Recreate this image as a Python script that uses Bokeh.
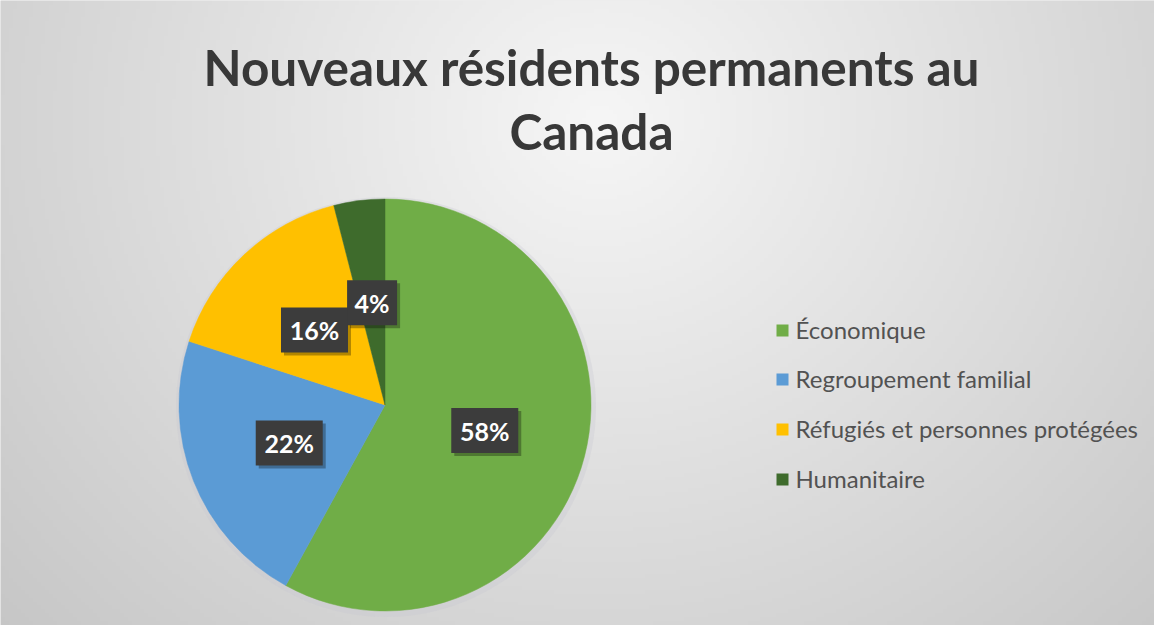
import numpy as np
from bokeh.plotting import figure
from bokeh.models import Range1d
from bokeh.core.properties import value
from bokeh.embed import file_html
from bokeh.resources import INLINE

# ---- data ----
categories = ["Économique", "Regroupement familial", "Réfugiés et personnes protégées", "Humanitaire"]
percentages = [58, 22, 16, 4]
colors = ["#70AD47", "#5B9BD5", "#FFC000", "#3E6B2C"]
title_lines = ["Nouveaux résidents permanents au", "Canada"]

# ---- layout helpers (pixel space) ----
W, H = 1154, 625
BASE_FIX = 0.36  # em correction for alphabetic baseline placement


def fx(sx):
    return sx


def fy(sy):
    return H - sy


p = figure(width=W, height=H, x_range=Range1d(0, W), y_range=Range1d(0, H),
           output_backend="svg", toolbar_location=None, min_border=0)
p.axis.visible = False
p.grid.visible = False
p.outline_line_color = None
p.background_fill_color = "#dcdcdc"
p.border_fill_color = "#dcdcdc"

# background radial gradient (style only)
gh, gw = 160, 290
gy, gx = np.mgrid[0:gh, 0:gw]
sx = (gx + 0.5) / gw * W
sy = H - (gy + 0.5) / gh * H
d = np.sqrt(((sx - 600) / 650) ** 2 + ((sy - 120) / 600) ** 2)
v = np.clip(246 - 38 * d, 0, 255).astype(np.uint8)
img = np.empty((gh, gw), dtype=np.uint32)
view = img.view(dtype=np.uint8).reshape((gh, gw, 4))
view[:, :, 0] = v
view[:, :, 1] = v
view[:, :, 2] = v
view[:, :, 3] = 255
p.image_rgba(image=[img], x=0, y=0, dw=W, dh=H)

# ---- title ----
tfs = 49.5
title_y = [84, 148]
for line, ty in zip(title_lines, title_y):
    p.text(x=[fx(591)], y=[fy(ty - BASE_FIX * tfs)], text=[line], text_align="center",
           text_baseline="alphabetic", text_font=value("Lato"), text_font_style="bold",
           text_font_size=f"{tfs}px", text_color="#383838")

# ---- pie ----
cx, cy, R = fx(384.5), fy(404.5), 206
total = float(sum(percentages))
fracs = np.array(percentages) / total
cum = np.concatenate([[0], np.cumsum(fracs)])
starts = np.pi / 2 - 2 * np.pi * cum[:-1]
ends = np.pi / 2 - 2 * np.pi * cum[1:]

p.circle(x=[cx + 1], y=[cy - 2], radius=R + 4, fill_color="#c8c8d0", fill_alpha=0.3, line_color=None)
p.wedge(x=cx, y=cy, radius=R, start_angle=list(starts), end_angle=list(ends), direction="clock",
        fill_color=colors, line_color=colors, line_width=0.5)

# ---- data labels ----
mids = (starts + ends) / 2
lr = 0.5 * R
lx = cx + lr * np.cos(mids)
ly = cy + lr * np.sin(mids)
labels = [f"{v}%" for v in percentages]
bw = [17 * len(t) + 16 for t in labels]
lfs = 25
p.rect(x=list(lx + 3), y=list(ly - 3), width=bw, height=45, fill_color="#000000", fill_alpha=0.3,
       line_color=None)
p.rect(x=list(lx), y=list(ly), width=bw, height=45, fill_color="#3c3c3c", line_color=None)
p.text(x=list(lx), y=list(ly - 9 + BASE_FIX * lfs), text=labels, text_align="center",
       text_baseline="alphabetic", text_font=value("Lato"), text_font_style="bold",
       text_font_size=f"{lfs}px", text_color="#ffffff")

# ---- legend ----
gfs = 24
leg_sy = np.array([330, 379, 429, 479])
p.rect(x=[fx(782)] * 4, y=list(fy(leg_sy)), width=12, height=12, fill_color=colors, line_color=None)
p.text(x=[fx(795)] * 4, y=list(fy(leg_sy + 8 - BASE_FIX * gfs)), text=categories, text_align="left",
       text_baseline="alphabetic", text_font=value("Lato"), text_font_size=f"{gfs}px",
       text_color="#525252")

open("out.html", "w").write(file_html(p, INLINE))
